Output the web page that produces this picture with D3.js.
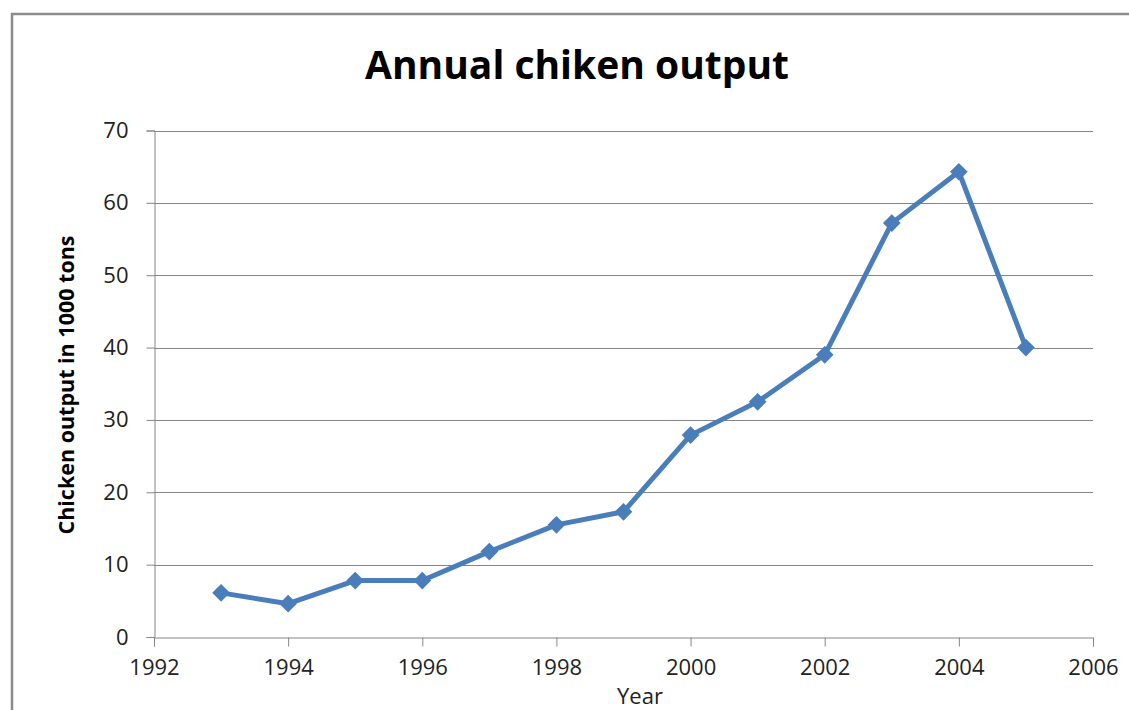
<!DOCTYPE html>
<html><head><meta charset="utf-8">
<script src="https://cdn.jsdelivr.net/npm/d3@7"></script>
<style>html,body{margin:0;padding:0;background:#fff;}svg{display:block;}</style>
</head><body>
<svg id="chart" width="1129" height="710"></svg>
<script>
const years = [1993,1994,1995,1996,1997,1998,1999,2000,2001,2002,2003,2004,2005];
const output = [6.1,4.6,7.8,7.8,11.8,15.5,17.3,27.9,32.5,39.0,57.2,64.3,40.0];
const xTicks = [1992,1994,1996,1998,2000,2002,2004,2006];
const yTicks = [0,10,20,30,40,50,60,70];
const title = "Annual chiken output";
const yLabel = "Chicken output in 1000 tons";
const xLabel = "Year";

const svg = d3.select("#chart");
const font = "'Open Sans', sans-serif";
const grey = "#868686";
const blue = "#4a7ebb";

// outer chart frame
svg.append("path").attr("d","M12,710 L12,14 L1129,14")
  .attr("fill","none").attr("stroke","#8c8c8c").attr("stroke-width",2.5);

const x = d3.scaleLinear().domain([1992,2006]).range([154,1093]);
const y = d3.scaleLinear().domain([0,70]).range([637,130.5]);

// gridlines
svg.append("g").selectAll("line").data(yTicks.filter(d=>d>0)).join("line")
  .attr("x1",x(1992)).attr("x2",x(2006))
  .attr("y1",d=>Math.round(y(d))+0.5).attr("y2",d=>Math.round(y(d))+0.5)
  .attr("stroke",grey).attr("stroke-width",1);

// y axis
const yAxis = svg.append("g").attr("transform",`translate(${x(1992)+0.5},0)`)
  .call(d3.axisLeft(y).tickValues(yTicks).tickSize(8).tickPadding(18).tickFormat(d3.format("d")));
yAxis.select(".domain").attr("stroke",grey);
yAxis.selectAll(".tick line").attr("stroke",grey);
yAxis.selectAll(".tick text").attr("font-family",font).attr("font-size",22).attr("fill","#222");

// x axis
const xAxis = svg.append("g").attr("transform",`translate(0,${Math.round(y(0))+0.5})`)
  .call(d3.axisBottom(x).tickValues(xTicks).tickSize(9).tickPadding(13).tickFormat(d3.format("d")));
xAxis.select(".domain").attr("stroke",grey);
xAxis.selectAll(".tick line").attr("stroke",grey);
xAxis.selectAll(".tick text").attr("font-family",font).attr("font-size",22).attr("fill","#222");

// line
const line = d3.line().x((d,i)=>x(years[i])).y(d=>y(d));
svg.append("path").datum(output).attr("d",line)
  .attr("fill","none").attr("stroke",blue).attr("stroke-width",5).attr("stroke-linejoin","round");

// markers
const diamond = d3.symbol().type(d3.symbolDiamond2).size(200);
svg.append("g").selectAll("path").data(output).join("path")
  .attr("d",diamond)
  .attr("transform",(d,i)=>`translate(${x(years[i])},${y(d)})`)
  .attr("fill",blue);

// title
svg.append("text").attr("x",577).attr("y",79).attr("text-anchor","middle")
  .attr("font-family",font).attr("font-weight","bold").attr("font-size",39).attr("fill","#000")
  .text(title);

// y label
svg.append("text").attr("transform","translate(74,385) rotate(-90)").attr("text-anchor","middle")
  .attr("font-family",font).attr("font-weight","bold").attr("font-size",21.5).attr("fill","#000")
  .text(yLabel);

// x label
svg.append("text").attr("x",640).attr("y",704).attr("text-anchor","middle")
  .attr("font-family",font).attr("font-size",22).attr("fill","#222")
  .text(xLabel);
</script>
</body></html>
